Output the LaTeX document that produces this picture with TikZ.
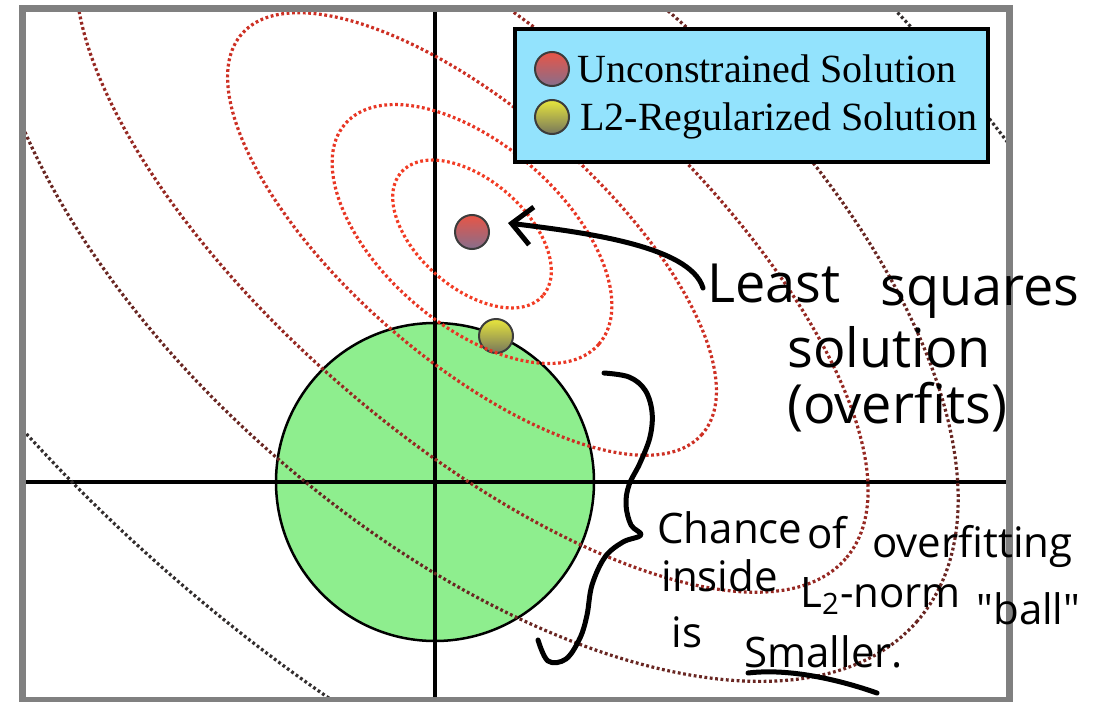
\documentclass[tikz,border=0pt]{standalone}
\usepackage{fontspec}
\usetikzlibrary{arrows.meta,positioning}
\newfontfamily\legendfont{Liberation Serif}
\newfontfamily\handfont{Open Sans}
\definecolor{lvl1}{RGB}{242,60,36}
\definecolor{lvl2}{RGB}{232,54,36}
\definecolor{lvl3}{RGB}{205,48,36}
\definecolor{lvl4}{RGB}{150,40,34}
\definecolor{lvl5}{RGB}{105,38,34}
\definecolor{lvl6}{RGB}{50,45,45}
\definecolor{ballgreen}{RGB}{142,238,142}
\definecolor{legendcyan}{RGB}{147,227,253}
\definecolor{framegray}{RGB}{128,128,128}
\definecolor{dotrim}{RGB}{60,60,60}

\begin{document}
\begin{tikzpicture}[x=0.5pt,y=-0.5pt]
\tikzset{
  contour/.style={line width=1.6pt,dash pattern=on 1.4pt off 1.3pt},
  solpt/.style={circle,draw=dotrim,line width=1pt,minimum size=17pt,inner sep=0pt},
  ursol/.style={solpt,top color={rgb,255:red,232;green,85;blue,70},bottom color={rgb,255:red,135;green,110;blue,140}},
  lzsol/.style={solpt,top color={rgb,255:red,232;green,230;blue,60},bottom color={rgb,255:red,118;green,118;blue,92}},
  legendbox/.style={draw,line width=1.75pt,fill=legendcyan,minimum width=236.5pt,minimum height=66.5pt,inner sep=0pt},
  legendtext/.style={anchor=base west,inner sep=0pt,font=\legendfont\fontsize{20}{24}\selectfont},
  hand/.style={anchor=base west,inner sep=0pt,font=\handfont\fontsize{27}{32}\selectfont},
  handsmall/.style={anchor=base west,inner sep=0pt,font=\handfont\fontsize{21}{25}\selectfont},
  pen/.style={line width=2.5pt,line cap=round,line join=round}
}
\useasboundingbox (0,0) rectangle (1096,701);
\coordinate (o) at (435,482);
\coordinate (ols) at (472,234);
% L2 ball and axes
\draw[fill=ballgreen,line width=1.25pt] (o) circle [radius=159];
\draw[line width=1.75pt] (435,12) -- (435,697);
\draw[line width=1.75pt] (26,482) -- (1006,482);
% solutions
\node[ursol] (n_ur) at (472,232) {};
\node[lzsol] (n_l2) at (496,336) {};
% error contours
\begin{scope}
\clip (26,12.5) rectangle (1006.5,697);
\draw[contour,lvl1,rotate around={-41:(ols)}] (ols) ellipse [x radius=94,y radius=54];
\draw[contour,lvl2,rotate around={-41:(ols)}] (ols) ellipse [x radius=168,y radius=90];
\draw[contour,lvl3,rotate around={-41:(ols)}] (ols) ellipse [x radius=305,y radius=125];
\draw[contour,lvl4,rotate around={-41:(ols)}] (ols) ellipse [x radius=495,y radius=200];
\draw[contour,lvl5,rotate around={-41:(ols)}] (ols) ellipse [x radius=590,y radius=297];
\draw[contour,lvl6,rotate around={-41:(ols)}] (ols) ellipse [x radius=900,y radius=455];
\end{scope}
\draw[framegray,line width=3.5pt] (22.5,9) rectangle (1009.5,700);
% legend
\node[legendbox] (n_legend) at (751.5,95.5) {};
\node[ursol] (n_key_ur) at (552,69) {};
\node[lzsol] (n_key_l2) at (552,117) {};
\node[legendtext] (n_txt_ur) at (577,83) {Unconstrained Solution};
\node[legendtext] (n_txt_l2) at (580,130) {L2-Regularized Solution};
% handwritten notes
\node[hand] (n_least) at (707,302) {Least};
\node[hand] (n_squares) at (880,305) {squares};
\node[hand] (n_sol) at (787,367) {solution};
\node[hand] (n_over) at (787,423) {(overfits)};
\node[handsmall] (n_chance) at (657,543) {Chance};
\node[handsmall] (n_of) at (807,548) {of};
\node[handsmall] (n_overfit) at (872,557) {overfitting};
\node[handsmall] (n_inside) at (661,591) {inside};
\node[handsmall] (n_norm) at (800,607) {L\textsubscript{2}-norm};
\node[handsmall] (n_ball) at (976,624) {"ball"};
\node[handsmall] (n_is) at (671,647) {is};
\node[handsmall] (n_smaller) at (744,667) {Smaller.};
\draw[pen,-{Straight Barb[length=10pt,width=19pt]}] ([shift={(-4,-14)}]n_least.base west) .. controls +(-13,-43) and +(72,9) .. ([shift={(36,-9)}]n_ur.center);
\draw[pen] plot[smooth,tension=0.6] coordinates {(604,373) (629,377) (645,390) (652,412) (650,437) (640,463) (629,485) (626,505) (631,525) (641,535) (623,542) (605,557) (592,585) (587,615) (580,638) (566,659) (548,661) (538,640)};
\draw[pen] ([shift={(4,6)}]n_smaller.base west) .. controls +(42,-5) and +(-37,-13) .. ([shift={(133,26)}]n_smaller.base west);
\end{tikzpicture}
\end{document}
